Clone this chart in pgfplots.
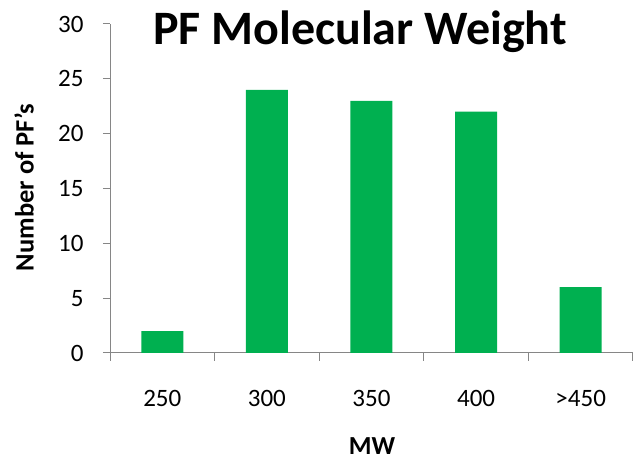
\documentclass[border=0pt]{standalone}
\usepackage{fontspec}
\setmainfont{Carlito}
\usepackage{pgfplots}
\pgfplotsset{compat=1.18}
\definecolor{bargreen}{HTML}{00B050}
\definecolor{axgray}{HTML}{868686}
\begin{document}
\begin{tikzpicture}[x=1pt,y=1pt]
\begin{axis}[
  at={(110pt,104pt)}, anchor=south west,
  scale only axis, width=523pt, height=329pt,
  xmin=-0.5, xmax=4.5, ymin=0, ymax=30,
  axis x line*=bottom, axis y line*=left,
  axis line style={axgray, line width=1pt},
  every tick/.style={axgray, line width=1pt},
  tick align=outside,
  xtick={0,1,2,3,4},
  xticklabels={250,300,350,400,>450},
  major x tick style={draw=none},
  minor xtick={-0.5,0.5,1.5,2.5,3.5,4.5},
  minor tick length=8pt,
  ytick={0,5,...,30},
  major tick length=7pt,
  /pgf/number format/assume math mode=true,
  tick label style={font=\fontsize{25}{30}\selectfont, black},
  yticklabel style={xshift=-16pt},
  xticklabel style={yshift=-27pt},
  ybar, bar width=42pt,
]
\addplot[fill=bargreen, draw=none] coordinates {(0,2) (1,24) (2,23) (3,22) (4,6)};
\end{axis}
\node[font=\fontsize{48}{56}\selectfont\bfseries, anchor=base] at (360,412) {PF Molecular Weight};
\node[font=\fontsize{26.5}{30}\selectfont\bfseries, rotate=90, inner sep=0pt] at (24,269.5) {Number of PF’s};
\node[font=\fontsize{26}{30}\selectfont\bfseries, anchor=base, inner sep=0pt] at (372,2.5) {MW};
\pgfresetboundingbox
\path (0,0) rectangle (633,457);
\end{tikzpicture}
\end{document}
